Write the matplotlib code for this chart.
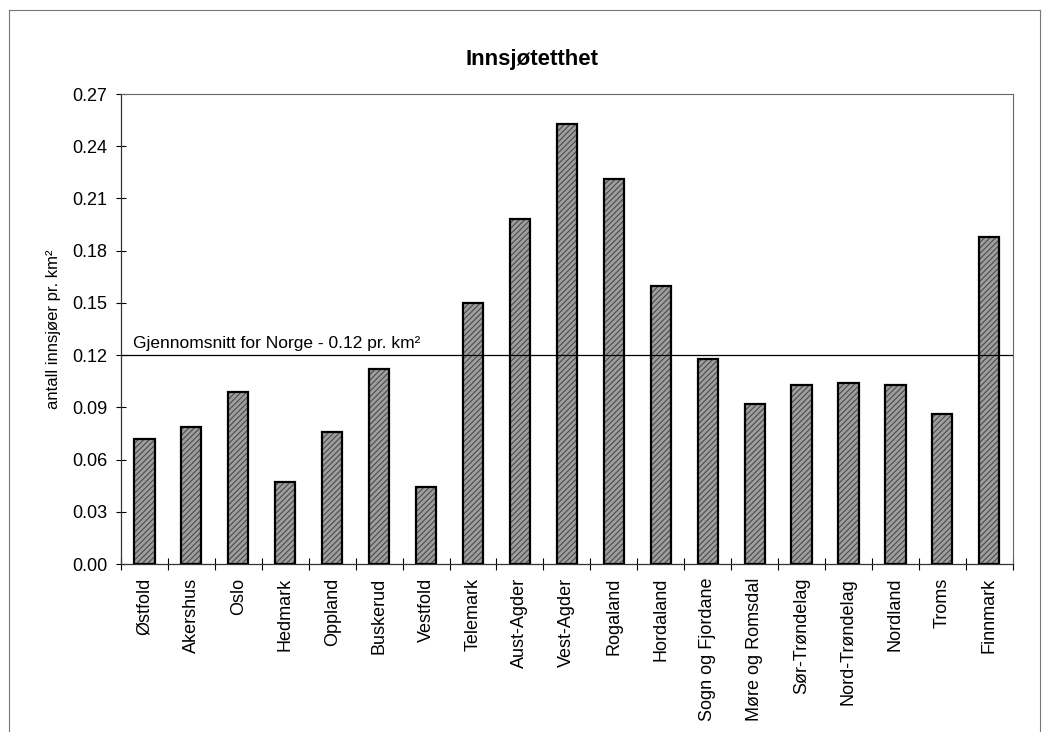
import matplotlib
matplotlib.use('Agg')
import matplotlib.pyplot as plt
from matplotlib.lines import Line2D
import numpy as np

plt.rcParams['font.family'] = ['Liberation Sans', 'DejaVu Sans']
plt.rcParams['hatch.linewidth'] = 0.8

fylker = ['Østfold', 'Akershus', 'Oslo', 'Hedmark', 'Oppland', 'Buskerud',
          'Vestfold', 'Telemark', 'Aust-Agder', 'Vest-Agder', 'Rogaland',
          'Hordaland', 'Sogn og Fjordane', 'Møre og Romsdal', 'Sør-Trøndelag',
          'Nord-Trøndelag', 'Nordland', 'Troms', 'Finnmark']
tetthet = [0.072, 0.079, 0.099, 0.047, 0.076, 0.112, 0.044, 0.150, 0.198,
           0.253, 0.221, 0.160, 0.118, 0.092, 0.103, 0.104, 0.103, 0.086, 0.188]
snitt_norge = 0.12
yticks = [0.00, 0.03, 0.06, 0.09, 0.12, 0.15, 0.18, 0.21, 0.24, 0.27]

fig = plt.figure(figsize=(10.43, 7.32), dpi=100)
ax = fig.add_axes([0.116, 0.2295, 0.855, 0.642])

x = np.arange(len(fylker))
# halftone-looking fill, then black outline on top
ax.bar(x, tetthet, width=0.43, color='#9e9e9e', edgecolor='#4a4a4a',
       linewidth=0, hatch='//////', zorder=2)
ax.bar(x, tetthet, width=0.43, fill=False, edgecolor='black',
       linewidth=1.6, zorder=3)

ax.axhline(snitt_norge, color='black', linewidth=0.9, zorder=4)
ax.text(-0.24, snitt_norge + 0.0022, 'Gjennomsnitt for Norge - 0.12 pr. km²',
        fontsize=12.5, va='bottom', ha='left')

ax.set_xlim(-0.5, len(fylker) - 0.5)
ax.set_ylim(0, 0.27)
ax.set_yticks(yticks)
ax.set_yticklabels([f'{v:.2f}' for v in yticks])
ax.set_xticks(x)
ax.set_xticklabels(fylker, rotation=90)
ax.set_xticks(np.arange(-0.5, len(fylker)), minor=True)

ax.tick_params(axis='y', direction='inout', length=7.5, width=0.8,
               labelsize=13, pad=6)
ax.tick_params(axis='x', which='major', length=0, labelsize=13, pad=10)
ax.tick_params(axis='x', which='minor', direction='inout', length=8.5, width=0.8)

for side in ['top', 'right']:
    ax.spines[side].set_color('#666666')
    ax.spines[side].set_linewidth(0.8)
for side in ['left', 'bottom']:
    ax.spines[side].set_color('#333333')
    ax.spines[side].set_linewidth(0.9)

ax.set_ylabel('antall innsjøer pr. km²', fontsize=12, labelpad=8)

fig.text(0.51, 1 - 59 / 732, 'Innsjøtetthet', fontsize=16, fontweight='bold',
         ha='center', va='center')

# outer chart frame (cut off at the bottom of the scan)
W, H = 1043, 732
frame_kw = dict(color='#777777', linewidth=0.8, transform=fig.transFigure)
fig.add_artist(Line2D([9 / W, 1040 / W], [1 - 10 / H, 1 - 10 / H], **frame_kw))
fig.add_artist(Line2D([9 / W, 9 / W], [0, 1 - 10 / H], **frame_kw))
fig.add_artist(Line2D([1040 / W, 1040 / W], [0, 1 - 10 / H], **frame_kw))

fig.savefig('out.png', dpi=100)
